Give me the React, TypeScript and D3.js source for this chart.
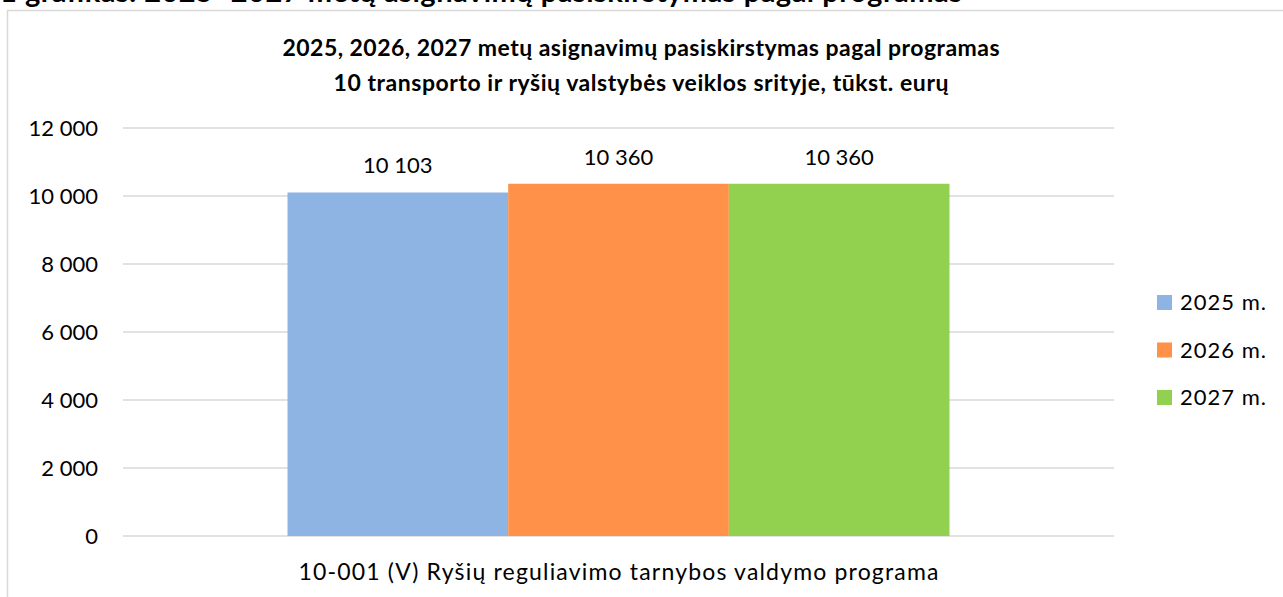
import React from "react";
import * as d3 from "d3";

const categories = ["10-001 (V) Ryšių reguliavimo tarnybos valdymo programa"];
const seriesNames = ["2025 m.", "2026 m.", "2027 m."];
const values2025 = [10103];
const values2026 = [10360];
const values2027 = [10360];
const seriesColors = ["#8EB4E3", "#FF9248", "#92D050"];
const yTicks = [0, 2000, 4000, 6000, 8000, 10000, 12000];
const titleLines = [
  "2025, 2026, 2027 metų asignavimų pasiskirstymas pagal programas",
  "10 transporto ir ryšių valstybės veiklos srityje, tūkst. eurų",
];
const pageHeading = "1 grafikas. 2025–2027 metų asignavimų pasiskirstymas pagal programas";

const W = 1283;
const H = 597;
const FONT = "Lato, 'Open Sans', sans-serif";

const fmt = (v: number) => {
  const s = Math.round(v).toString();
  return s.replace(/\B(?=(\d{3})+(?!\d))/g, " ");
};

export default function App() {
  const plotLeft = 123;
  const plotRight = 1114;
  const plotTop = 128;
  const plotBottom = 536;
  const y = d3.scaleLinear().domain([0, 12000]).range([plotBottom, plotTop]);
  const x0 = d3
    .scaleBand<string>()
    .domain(categories)
    .range([plotLeft, plotRight])
    .paddingInner(0)
    .paddingOuter(0.2485);
  const x1 = d3.scaleBand<string>().domain(seriesNames).range([0, x0.bandwidth()]).padding(0);
  const seriesValues = [values2025, values2026, values2027];
  const titleWidths = [717, 615];

  return (
    <svg
      width={W}
      height={H}
      style={{ position: "absolute", left: 0, top: 0, background: "#fff" }}
      fontFamily={FONT}
    >
      <text x={0} y={2} fontSize={29} fontWeight="bold" fill="#000" textLength={962}>
        {pageHeading}
      </text>
      <rect x={7.5} y={10.5} width={1290} height={600} fill="none" stroke="#D9D9D9" strokeWidth={1.5} />
      {titleLines.map((t, i) => (
        <text
          key={i}
          x={641}
          y={56 + i * 35}
          textAnchor="middle"
          fontSize={23}
          fontWeight="bold"
          fill="#000"
          textLength={titleWidths[i]}
        >
          {t}
        </text>
      ))}
      {yTicks.map((t) => (
        <g key={t}>
          <line x1={plotLeft} x2={plotRight} y1={y(t)} y2={y(t)} stroke="#D9D9D9" strokeWidth={1.5} />
          <text x={98} y={y(t)} dy="0.35em" textAnchor="end" fontSize={22} fill="#000">
            {fmt(t)}
          </text>
        </g>
      ))}
      {categories.map((c, ci) => (
        <g key={c} transform={`translate(${x0(c)},0)`}>
          {seriesNames.map((s, si) => {
            const v = seriesValues[si][ci];
            const bx = x1(s)!;
            return (
              <g key={s}>
                <rect x={bx} y={y(v)} width={x1.bandwidth()} height={plotBottom - y(v)} fill={seriesColors[si]} />
                <text
                  x={bx + x1.bandwidth() / 2}
                  y={y(v) - 19}
                  textAnchor="middle"
                  fontSize={22}
                  fill="#000"
                >
                  {fmt(v)}
                </text>
              </g>
            );
          })}
          <text
            x={x0.bandwidth() / 2}
            y={580}
            textAnchor="middle"
            fontSize={23}
            fill="#000"
            textLength={640}
          >
            {c}
          </text>
        </g>
      ))}
      {seriesNames.map((s, i) => (
        <g key={s} transform={`translate(1157,${302.5 + i * 47.5})`}>
          <rect x={0} y={-7.5} width={15} height={15} fill={seriesColors[i]} />
          <text x={23} y={7.5} fontSize={22} fill="#000" textLength={86}>
            {s}
          </text>
        </g>
      ))}
    </svg>
  );
}
